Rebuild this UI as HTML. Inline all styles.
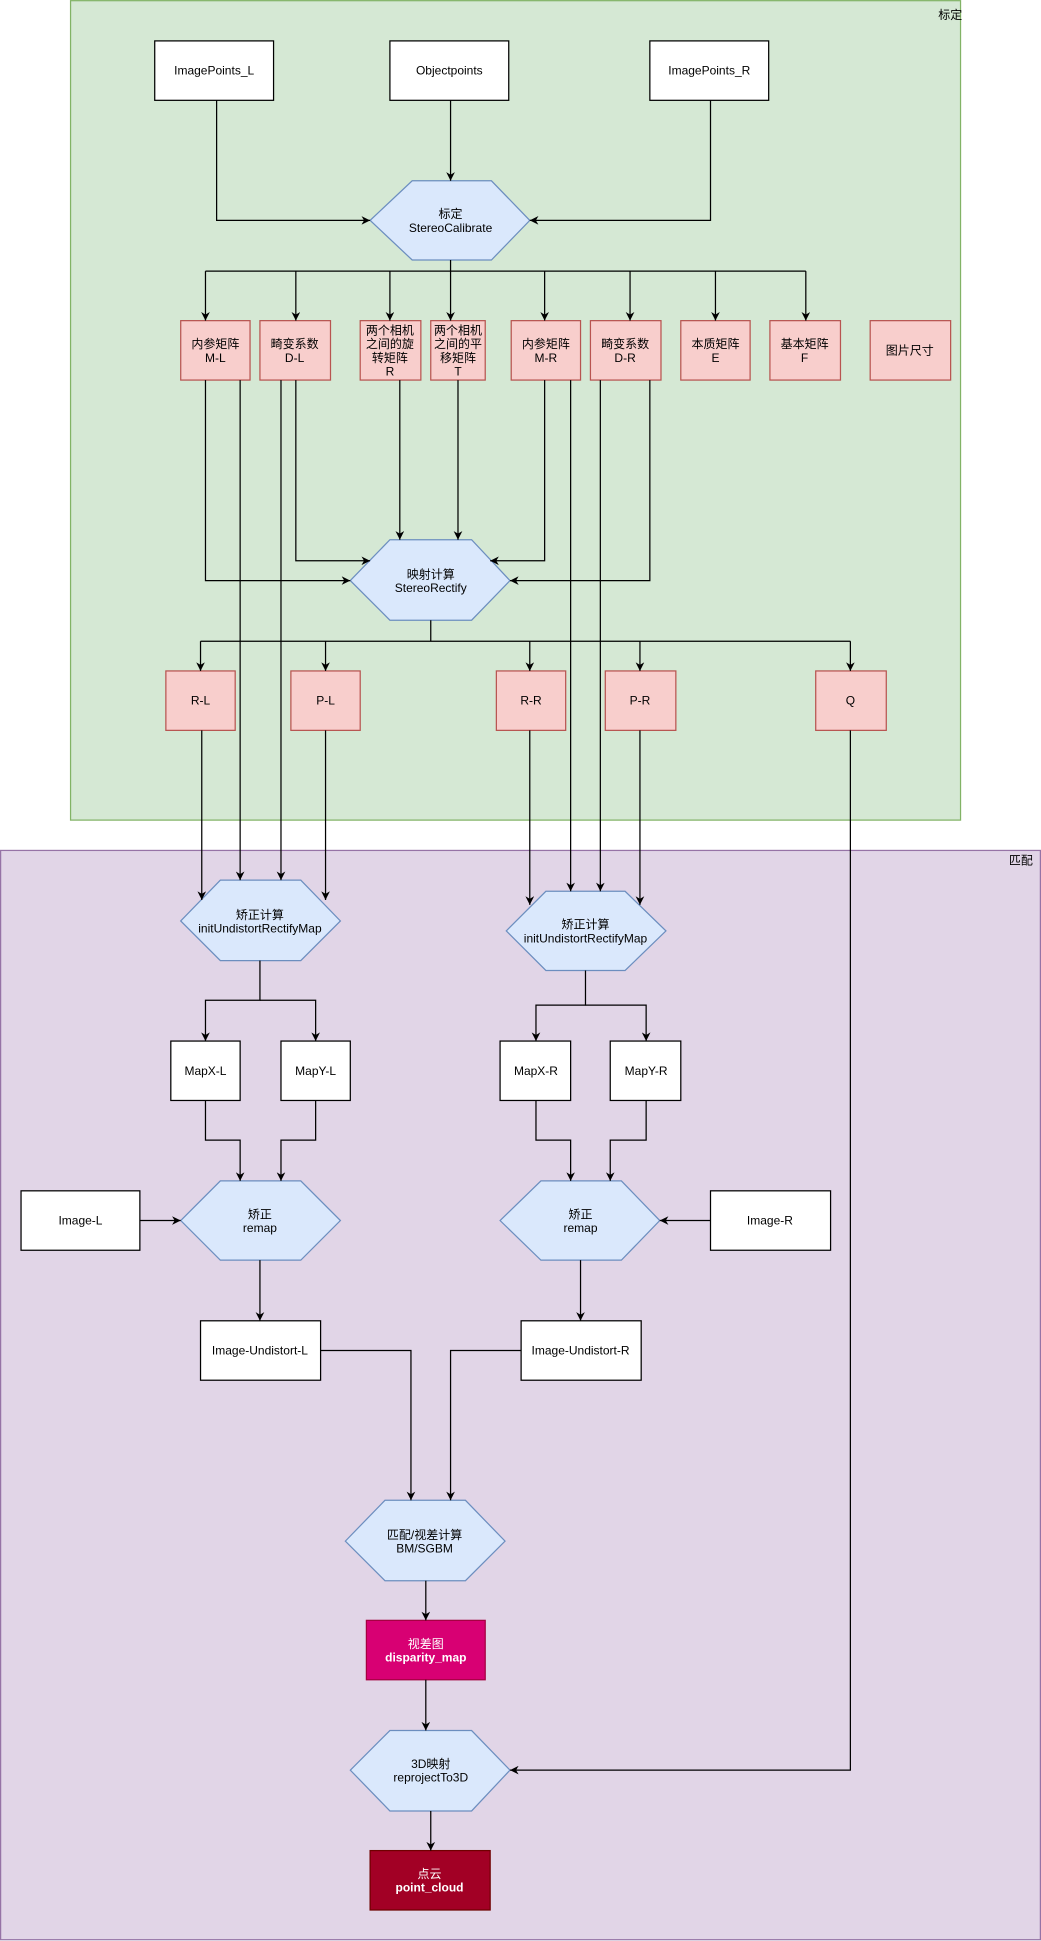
<!DOCTYPE html>
<html><head><meta charset="utf-8"><style>
html,body{margin:0;padding:0;background:#fff;}
svg{display:block;}
text{font-family:"Liberation Sans","Noto Sans CJK SC",sans-serif;font-size:9.7px;fill:#000;}
</style></head><body>
<svg width="1041" height="1941" viewBox="0 0 841 1568" xmlns="http://www.w3.org/2000/svg">
<defs>
<marker id="a" viewBox="0 0 10 10" refX="10" refY="5" markerWidth="7" markerHeight="7" markerUnits="userSpaceOnUse" orient="auto">
<path d="M0,0 L10,5 L0,10 L3,5 z" fill="#000"/>
</marker>
</defs>
<rect x="57" y="0.5" width="719" height="662" fill="#d5e8d4" stroke="#82b366"/>
<text x="758" y="12" dominant-baseline="central">标定</text>
<rect x="0.5" y="687" width="840" height="880" fill="#e1d5e7" stroke="#9673a6"/>
<text x="815" y="695" dominant-baseline="central">匹配</text>

<g fill="#fff" stroke="#000">
<rect x="125" y="33" width="96" height="48"/>
<rect x="315" y="33" width="96" height="48"/>
<rect x="525" y="33" width="96" height="48"/>
<rect x="138" y="841" width="56" height="48"/>
<rect x="227" y="841" width="56" height="48"/>
<rect x="404" y="841" width="57" height="48"/>
<rect x="493" y="841" width="57" height="48"/>
<rect x="17" y="962" width="96" height="48"/>
<rect x="574" y="962" width="97" height="48"/>
<rect x="162" y="1067" width="97" height="48"/>
<rect x="421" y="1067" width="97" height="48"/>
</g>
<g fill="#f8cecc" stroke="#b85450">
<rect x="146" y="259" width="56" height="48"/>
<rect x="210" y="259" width="57" height="48"/>
<rect x="291" y="259" width="49" height="48"/>
<rect x="348" y="259" width="44" height="48"/>
<rect x="413" y="259" width="56" height="48"/>
<rect x="477" y="259" width="57" height="48"/>
<rect x="550" y="259" width="56" height="48"/>
<rect x="622" y="259" width="57" height="48"/>
<rect x="703" y="259" width="65" height="48"/>
<rect x="134" y="542" width="56" height="48"/>
<rect x="235" y="542" width="56" height="48"/>
<rect x="401" y="542" width="56" height="48"/>
<rect x="489" y="542" width="57" height="48"/>
<rect x="659" y="542" width="57" height="48"/>
</g>
<rect x="296" y="1309" width="96" height="48" fill="#d80073" stroke="#a50040"/>
<rect x="299" y="1495" width="97" height="48" fill="#a20025" stroke="#6f0000"/>

<g fill="#dae8fc" stroke="#6c8ebf">
<polygon points="299,178 333,146 397,146 428,178 397,210 333,210"/>
<polygon points="283,469 315,436 381,436 412,469 381,501 315,501"/>
<polygon points="146,744 178,711 243,711 275,744 243,776 178,776"/>
<polygon points="409,752 441,720 505,720 538,752 505,784 441,784"/>
<polygon points="146,986 178,954 243,954 275,986 243,1018 178,1018"/>
<polygon points="404,986 437,954 502,954 533,986 502,1018 437,1018"/>
<polygon points="279,1245 311,1212 376,1212 408,1245 376,1277 311,1277"/>
<polygon points="283,1430 315,1398 381,1398 412,1430 381,1463 315,1463"/>
</g>

<g fill="none" stroke="#000" stroke-width="1">
<path d="M175,81 V178 H299" marker-end="url(#a)"/>
<path d="M364,81 V146" marker-end="url(#a)"/>
<path d="M574,81 V178 H428" marker-end="url(#a)"/>
<path d="M364,210 V219 M166,219 H651"/>
<path d="M166,219 V259" marker-end="url(#a)"/>
<path d="M239,219 V259" marker-end="url(#a)"/>
<path d="M315,219 V259" marker-end="url(#a)"/>
<path d="M364,219 V259" marker-end="url(#a)"/>
<path d="M440,219 V259" marker-end="url(#a)"/>
<path d="M509,219 V259" marker-end="url(#a)"/>
<path d="M578,219 V259" marker-end="url(#a)"/>
<path d="M651,219 V259" marker-end="url(#a)"/>
<path d="M166,307 V469 H283" marker-end="url(#a)"/>
<path d="M239,307 V453 H299" marker-end="url(#a)"/>
<path d="M323,307 V436" marker-end="url(#a)"/>
<path d="M370,307 V436" marker-end="url(#a)"/>
<path d="M440,307 V453 H396" marker-end="url(#a)"/>
<path d="M525,307 V469 H412" marker-end="url(#a)"/>
<path d="M348,501 V518 M162,518 H687"/>
<path d="M162,518 V542" marker-end="url(#a)"/>
<path d="M263,518 V542" marker-end="url(#a)"/>
<path d="M428,518 V542" marker-end="url(#a)"/>
<path d="M517,518 V542" marker-end="url(#a)"/>
<path d="M687,518 V542" marker-end="url(#a)"/>
<path d="M194,307 V711" marker-end="url(#a)"/>
<path d="M227,307 V711" marker-end="url(#a)"/>
<path d="M163,590 V727" marker-end="url(#a)"/>
<path d="M263,590 V727" marker-end="url(#a)"/>
<path d="M461,307 V720" marker-end="url(#a)"/>
<path d="M485,307 V720" marker-end="url(#a)"/>
<path d="M428,590 V731" marker-end="url(#a)"/>
<path d="M517,590 V731" marker-end="url(#a)"/>
<path d="M210,776 V808 H166 V841" marker-end="url(#a)"/>
<path d="M210,808 H255 V841" marker-end="url(#a)"/>
<path d="M473,784 V812 H433 V841" marker-end="url(#a)"/>
<path d="M473,812 H522 V841" marker-end="url(#a)"/>
<path d="M166,889 V921 H194 V954" marker-end="url(#a)"/>
<path d="M255,889 V921 H227 V954" marker-end="url(#a)"/>
<path d="M433,889 V921 H461 V954" marker-end="url(#a)"/>
<path d="M522,889 V921 H493 V954" marker-end="url(#a)"/>
<path d="M113,986 H146" marker-end="url(#a)"/>
<path d="M574,986 H533" marker-end="url(#a)"/>
<path d="M210,1018 V1067" marker-end="url(#a)"/>
<path d="M469,1018 V1067" marker-end="url(#a)"/>
<path d="M259,1091 H332 V1212" marker-end="url(#a)"/>
<path d="M421,1091 H364 V1212" marker-end="url(#a)"/>
<path d="M344,1277 V1309" marker-end="url(#a)"/>
<path d="M344,1357 V1398" marker-end="url(#a)"/>
<path d="M687,590 V1430 H412" marker-end="url(#a)"/>
<path d="M348,1463 V1495" marker-end="url(#a)"/>
</g>

<g text-anchor="middle" dominant-baseline="central">
<text x="173" y="57">ImagePoints_L</text>
<text x="363" y="57">Objectpoints</text>
<text x="573" y="57">ImagePoints_R</text>
<text x="364" y="173">标定</text><text x="364" y="184">StereoCalibrate</text>
<text x="174" y="278">内参矩阵</text><text x="174" y="289">M-L</text>
<text x="238" y="278">畸变系数</text><text x="238" y="289">D-L</text>
<text x="315" y="267">两个相机</text><text x="315" y="278">之间的旋</text><text x="315" y="289">转矩阵</text><text x="315" y="300">R</text>
<text x="370" y="267">两个相机</text><text x="370" y="278">之间的平</text><text x="370" y="289">移矩阵</text><text x="370" y="300">T</text>
<text x="441" y="278">内参矩阵</text><text x="441" y="289">M-R</text>
<text x="505" y="278">畸变系数</text><text x="505" y="289">D-R</text>
<text x="578" y="278">本质矩阵</text><text x="578" y="289">E</text>
<text x="650" y="278">基本矩阵</text><text x="650" y="289">F</text>
<text x="735" y="283">图片尺寸</text>
<text x="348" y="464">映射计算</text><text x="348" y="475">StereoRectify</text>
<text x="162" y="566">R-L</text>
<text x="263" y="566">P-L</text>
<text x="429" y="566">R-R</text>
<text x="517" y="566">P-R</text>
<text x="687" y="566">Q</text>
<text x="210" y="739">矫正计算</text><text x="210" y="750">initUndistortRectifyMap</text>
<text x="473" y="747">矫正计算</text><text x="473" y="758">initUndistortRectifyMap</text>
<text x="166" y="865">MapX-L</text>
<text x="255" y="865">MapY-L</text>
<text x="433" y="865">MapX-R</text>
<text x="522" y="865">MapY-R</text>
<text x="65" y="986">Image-L</text>
<text x="622" y="986">Image-R</text>
<text x="210" y="981">矫正</text><text x="210" y="992">remap</text>
<text x="469" y="981">矫正</text><text x="469" y="992">remap</text>
<text x="210" y="1091">Image-Undistort-L</text>
<text x="469" y="1091">Image-Undistort-R</text>
<text x="343" y="1240">匹配/视差计算</text><text x="343" y="1251">BM/SGBM</text>
<text x="344" y="1328" style="fill:#fff">视差图</text><text x="344" y="1339" style="fill:#fff;font-weight:bold">disparity_map</text>
<text x="348" y="1425">3D映射</text><text x="348" y="1436">reprojectTo3D</text>
<text x="347" y="1514" style="fill:#fff">点云</text><text x="347" y="1525" style="fill:#fff;font-weight:bold">point_cloud</text>
</g>
</svg>
</body></html>
